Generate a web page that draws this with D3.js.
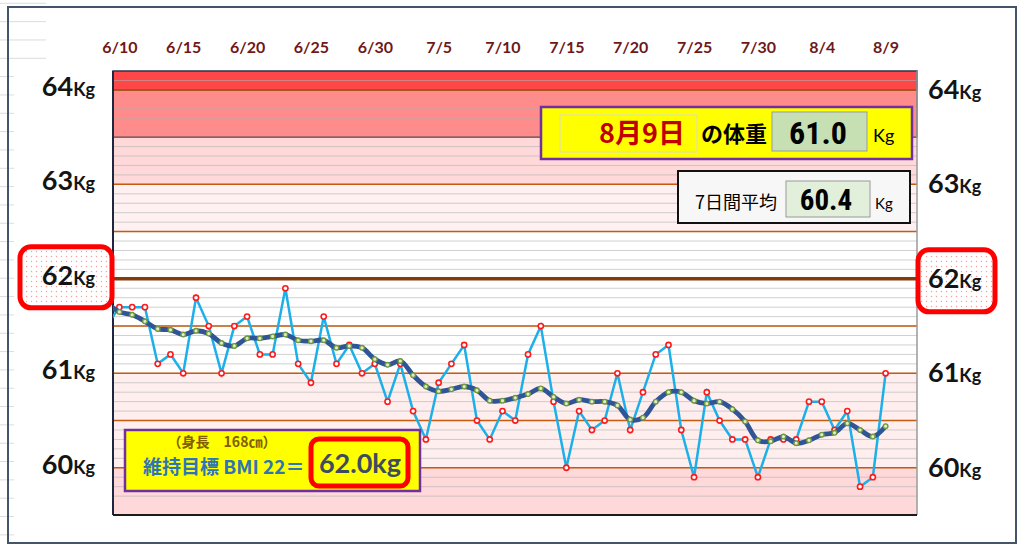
<!DOCTYPE html>
<html>
<head>
<meta charset="utf-8">
<script src="https://cdn.jsdelivr.net/npm/d3@7"></script>
<style>
  body { margin: 0; background: #fff; }
  svg { display: block; }
</style>
</head>
<body>
<div id="chart"></div>
<script>
// ----------------------------------------------
// Data (6/9 is drawn only as the clipped lead-in)
// ----------------------------------------------
var firstDay = "6/9";
var weights = [61.5,
    61.7, 61.7, 61.7, 61.1, 61.2, 61.0, 61.8, 61.5, 61.0, 61.5,
    61.6, 61.2, 61.2, 61.9, 61.1, 60.9, 61.6, 61.1, 61.3, 61.0,
    61.1, 60.7, 61.1, 60.6, 60.3, 60.9, 61.1, 61.3, 60.5, 60.3,
    60.6, 60.5, 61.2, 61.5, 60.7, 60.0, 60.6, 60.4, 60.5, 61.0,
    60.4, 60.8, 61.2, 61.3, 60.4, 59.9, 60.8, 60.5, 60.3, 60.3,
    59.9, 60.3, 60.3, 60.3, 60.7, 60.7, 60.4, 60.6, 59.8, 59.9,
    61.0];
var averages = [61.75,
    61.65, 61.62, 61.55, 61.47, 61.46, 61.41, 61.45, 61.42, 61.32, 61.29,
    61.37, 61.37, 61.39, 61.41, 61.35, 61.34, 61.35, 61.27, 61.29, 61.27,
    61.15, 61.09, 61.13, 60.98, 60.86, 60.81, 60.83, 60.86, 60.82, 60.71,
    60.71, 60.74, 60.78, 60.84, 60.75, 60.68, 60.72, 60.70, 60.70, 60.66,
    60.51, 60.53, 60.70, 60.80, 60.80, 60.71, 60.68, 60.70, 60.62, 60.49,
    60.29, 60.28, 60.33, 60.26, 60.29, 60.35, 60.37, 60.47, 60.40, 60.33,
    60.44];
var tickLabels = ["6/10", "6/15", "6/20", "6/25", "6/30", "7/5", "7/10",
    "7/15", "7/20", "7/25", "7/30", "8/4", "8/9"];
var yTickValues = [60, 61, 62, 63, 64];
var targetWeight = 62;
var todayLabel = "8月9日";
var todayWeight = "61.0";
var weekAverage = "60.4";
var heightLabel = "（身長　168㎝）";
var bmiLabel = "維持目標 BMI 22＝";
var bmiWeight = "62.0kg";

// background bands [from, to]
var bands = [
    [64, 64.2, "#ff4747"],
    [63.5, 64, "#ff8b8b"],
    [63, 63.5, "#ffd9d9"],
    [62.5, 63, "#fff1f1"],
    [61, 62.5, "#ffffff"],
    [60, 61, "#ffeeee"],
    [59.5, 60, "#ffd9d9"]
];
var orangeLines = [60, 60.5, 61, 61.5, 62.5, 63, 64];

// ----------------------------------------------
// Basic setup
// ----------------------------------------------
var svgWidth = 1024;
var svgHeight = 552;
var plot = { left: 113, right: 917, top: 71, bottom: 515 };

var svg = d3.select("#chart")
    .append("svg")
    .attr("width", svgWidth)
    .attr("height", svgHeight);

var parseDay = s => {
    var p = s.split("/");
    return new Date(2021, +p[0] - 1, +p[1]);
};
var startDate = parseDay(firstDay);
var dates = weights.map((w, i) => d3.timeDay.offset(startDate, i));

var xScale = d3.scaleTime()
    .domain([d3.timeHour.offset(parseDay(tickLabels[0]), -12),
        d3.timeHour.offset(parseDay(tickLabels[tickLabels.length - 1]), 59)])
    .range([plot.left, plot.right]);
var yScale = d3.scaleLinear()
    .domain([59.5, 64.2])
    .range([plot.bottom, plot.top]);

var defs = svg.append("defs");
defs.append("clipPath").attr("id", "plotClip")
    .append("rect")
    .attr("x", plot.left).attr("y", plot.top)
    .attr("width", plot.right - plot.left).attr("height", plot.bottom - plot.top);
var dots = defs.append("pattern").attr("id", "dots")
    .attr("width", 5).attr("height", 5).attr("patternUnits", "userSpaceOnUse");
dots.append("rect").attr("width", 5).attr("height", 5).attr("fill", "#fff");
dots.append("circle").attr("cx", 1.5).attr("cy", 1.5).attr("r", 0.7).attr("fill", "#ff9a9a");

// outer frame
svg.append("rect")
    .attr("x", 8).attr("y", 7).attr("width", 1008).attr("height", 536)
    .attr("fill", "#fff").attr("stroke", "#44546a").attr("stroke-width", 2);

// faint spreadsheet cell lines at the left
d3.range(3.3, 552, 18.33).forEach(yy => {
    svg.append("line")
        .attr("x1", 0).attr("x2", yy < 60 ? 46 : 14)
        .attr("y1", yy).attr("y2", yy)
        .attr("stroke", "#dcdcdc").attr("stroke-width", 1);
});
svg.append("line").attr("x1", 8).attr("x2", 8).attr("y1", 7).attr("y2", 543)
    .attr("stroke", "#44546a").attr("stroke-width", 2);

// ----------------------------------------------
// Plot background
// ----------------------------------------------
var bg = svg.append("g");
bg.selectAll(".band")
    .data(bands)
    .enter()
    .append("rect")
    .attr("x", plot.left)
    .attr("width", plot.right - plot.left)
    .attr("y", d => yScale(d[1]))
    .attr("height", d => yScale(d[0]) - yScale(d[1]))
    .attr("fill", d => d[2]);

// minor grid every 0.1 kg
bg.selectAll(".minor")
    .data(d3.range(597, 642).map(v => v / 10))
    .enter()
    .append("line")
    .attr("x1", plot.left).attr("x2", plot.right)
    .attr("y1", d => yScale(d)).attr("y2", d => yScale(d))
    .attr("stroke", "#b0b0b0").attr("stroke-opacity", 0.6).attr("stroke-width", 1);

// outlines of the top bands
bg.append("rect")
    .attr("x", plot.left).attr("y", yScale(64.2))
    .attr("width", plot.right - plot.left).attr("height", yScale(64) - yScale(64.2))
    .attr("fill", "none").attr("stroke", "#2b3550").attr("stroke-width", 1.5);
bg.append("rect")
    .attr("x", plot.left).attr("y", yScale(64))
    .attr("width", plot.right - plot.left).attr("height", yScale(63.5) - yScale(64))
    .attr("fill", "none").attr("stroke", "#5b4040").attr("stroke-width", 1.2);

bg.selectAll(".major")
    .data(orangeLines)
    .enter()
    .append("line")
    .attr("x1", plot.left).attr("x2", plot.right)
    .attr("y1", d => yScale(d)).attr("y2", d => yScale(d))
    .attr("stroke", "#c55a11").attr("stroke-width", 1.5);

bg.append("line")
    .attr("x1", plot.left).attr("x2", plot.right + 2)
    .attr("y1", yScale(targetWeight)).attr("y2", yScale(targetWeight))
    .attr("stroke", "#843c0c").attr("stroke-width", 3.5);

// plot borders
bg.append("line").attr("x1", plot.right).attr("x2", plot.right)
    .attr("y1", plot.top).attr("y2", plot.bottom)
    .attr("stroke", "#9a9a9a").attr("stroke-width", 1.5);
bg.append("line").attr("x1", plot.left).attr("x2", plot.left)
    .attr("y1", plot.top).attr("y2", plot.bottom)
    .attr("stroke", "#1f2740").attr("stroke-width", 2);
bg.append("line").attr("x1", plot.left).attr("x2", plot.right)
    .attr("y1", plot.bottom).attr("y2", plot.bottom)
    .attr("stroke", "#1a1a1a").attr("stroke-width", 2);

// ----------------------------------------------
// Lines and markers
// ----------------------------------------------
var chartGroup = svg.append("g").attr("clip-path", "url(#plotClip)");

var weightLine = d3.line()
    .x((d, i) => xScale(dates[i]))
    .y(d => yScale(d));
var avgLine = d3.line()
    .x((d, i) => xScale(dates[i]))
    .y(d => yScale(d))
    .curve(d3.curveCatmullRom);

chartGroup.append("path")
    .datum(weights)
    .attr("d", weightLine)
    .attr("fill", "none")
    .attr("stroke", "#1cb0ea")
    .attr("stroke-width", 2.5);
chartGroup.selectAll(".wDot")
    .data(weights)
    .enter()
    .append("circle")
    .attr("cx", (d, i) => xScale(dates[i]))
    .attr("cy", d => yScale(d))
    .attr("r", 2.6)
    .attr("fill", "#fff")
    .attr("stroke", "#ff1a1a")
    .attr("stroke-width", 1.6);

chartGroup.append("path")
    .datum(averages)
    .attr("d", avgLine)
    .attr("fill", "none")
    .attr("stroke", "#2f5597")
    .attr("stroke-width", 4.8)
    .attr("stroke-linecap", "round");
chartGroup.selectAll(".aDot")
    .data(averages)
    .enter()
    .append("circle")
    .attr("cx", (d, i) => xScale(dates[i]))
    .attr("cy", d => yScale(d))
    .attr("r", 2.3)
    .attr("fill", "#e2ecc8")
    .attr("stroke", "#6f9a3c")
    .attr("stroke-width", 1.4);

// ----------------------------------------------
// Axes
// ----------------------------------------------
var xAxis = d3.axisTop(xScale)
    .tickValues(tickLabels.map(parseDay))
    .tickFormat(d3.timeFormat("%-m/%-d"))
    .tickSize(0);
var xAxisG = svg.append("g")
    .attr("transform", "translate(0, 47)")
    .call(xAxis);
xAxisG.select(".domain").remove();
xAxisG.selectAll("text")
    .attr("y", 0).attr("dy", "0.36em")
    .attr("fill", "#6e1818")
    .style("font-family", "Lato, 'Open Sans', sans-serif")
    .style("font-weight", "bold")
    .style("font-size", "16px");

// target-weight boxes
svg.append("rect")
    .attr("x", 20).attr("y", yScale(targetWeight) - 32)
    .attr("width", 92).attr("height", 61).attr("rx", 11)
    .attr("fill", "url(#dots)").attr("stroke", "#ff0000").attr("stroke-width", 5);
svg.append("rect")
    .attr("x", 918).attr("y", yScale(targetWeight) - 29)
    .attr("width", 77).attr("height", 62).attr("rx", 11)
    .attr("fill", "url(#dots)").attr("stroke", "#ff0000").attr("stroke-width", 5);

function kgLabel(sel, anchor) {
    sel.attr("text-anchor", anchor)
        .attr("dy", "0.36em")
        .attr("fill", "#141414")
        .style("font-family", "Lato, 'Open Sans', sans-serif")
        .style("font-weight", "bold");
    sel.append("tspan").style("font-size", "27px").text(d => d);
    sel.append("tspan").style("font-size", "18px").text("Kg");
}
svg.selectAll(".yLeft")
    .data(yTickValues)
    .enter()
    .append("text")
    .attr("x", 95)
    .attr("y", d => yScale(d))
    .call(kgLabel, "end");
svg.selectAll(".yRight")
    .data(yTickValues)
    .enter()
    .append("text")
    .attr("x", 928)
    .attr("y", d => yScale(d) + 3)
    .call(kgLabel, "start");

// ----------------------------------------------
// Info boxes
// ----------------------------------------------
var jp = "'Noto Sans CJK JP', 'Noto Sans', sans-serif";
var narrow = "'Liberation Sans Narrow', 'Roboto Condensed', 'Liberation Sans', sans-serif";

var box1 = svg.append("g");
box1.append("rect").attr("x", 541).attr("y", 107).attr("width", 371).attr("height", 52)
    .attr("fill", "#ffff00").attr("stroke", "#7030a0").attr("stroke-width", 2.5);
box1.append("rect").attr("x", 560).attr("y", 115).attr("width", 137).attr("height", 37)
    .attr("fill", "#ffff00").attr("stroke", "#d8d8d8").attr("stroke-width", 1);
box1.append("text").attr("x", 642).attr("y", 134).attr("dy", "0.35em")
    .attr("text-anchor", "middle").attr("fill", "#c00000")
    .style("font-family", jp).style("font-weight", "bold").style("font-size", "27px")
    .text(todayLabel);
box1.append("text").attr("x", 734).attr("y", 134).attr("dy", "0.35em")
    .attr("text-anchor", "middle").attr("fill", "#000")
    .style("font-family", jp).style("font-weight", "bold").style("font-size", "22px")
    .text("の体重");
box1.append("rect").attr("x", 772).attr("y", 112).attr("width", 95).attr("height", 39)
    .attr("fill", "#c6e0b4").attr("stroke", "#9a9a9a").attr("stroke-width", 1);
box1.append("text").attr("x", 818).attr("y", 132).attr("dy", "0.36em")
    .attr("text-anchor", "middle").attr("fill", "#000")
    .style("font-family", narrow).style("font-weight", "bold").style("font-size", "32px")
    .text(todayWeight);
box1.append("text").attr("x", 873).attr("y", 136).attr("dy", "0.35em")
    .attr("fill", "#000")
    .style("font-family", "Lato, sans-serif").style("font-size", "18px")
    .text("Kg");

var box2 = svg.append("g");
box2.append("rect").attr("x", 678).attr("y", 171).attr("width", 232).attr("height", 52)
    .attr("fill", "#f7f7f7").attr("stroke", "#111").attr("stroke-width", 2);
box2.append("text").attr("x", 736).attr("y", 203).attr("dy", "0.35em")
    .attr("text-anchor", "middle").attr("fill", "#000")
    .style("font-family", jp).style("font-size", "18px")
    .text("7日間平均");
box2.append("rect").attr("x", 786).attr("y", 181).attr("width", 84).attr("height", 36)
    .attr("fill", "#e2efda").attr("stroke", "#9a9a9a").attr("stroke-width", 1);
box2.append("text").attr("x", 826).attr("y", 200).attr("dy", "0.36em")
    .attr("text-anchor", "middle").attr("fill", "#000")
    .style("font-family", narrow).style("font-weight", "bold").style("font-size", "29px")
    .text(weekAverage);
box2.append("text").attr("x", 875).attr("y", 204).attr("dy", "0.35em")
    .attr("fill", "#000")
    .style("font-family", "Lato, sans-serif").style("font-size", "15px")
    .text("Kg");

var box3 = svg.append("g");
box3.append("rect").attr("x", 125).attr("y", 430).attr("width", 295).attr("height", 61)
    .attr("fill", "#ffff00").attr("stroke", "#7030a0").attr("stroke-width", 2.5);
box3.append("text").attr("x", 222).attr("y", 442).attr("dy", "0.35em")
    .attr("text-anchor", "middle").attr("fill", "#7f6000")
    .style("font-family", jp).style("font-weight", "bold").style("font-size", "14px")
    .text(heightLabel);
box3.append("text").attr("x", 143).attr("y", 467).attr("dy", "0.35em")
    .attr("fill", "#2e75b6")
    .style("font-family", jp).style("font-weight", "bold").style("font-size", "19px")
    .text(bmiLabel);
box3.append("rect").attr("x", 311).attr("y", 439).attr("width", 97).attr("height", 47)
    .attr("rx", 8)
    .attr("fill", "#ffff00").attr("stroke", "#ff0000").attr("stroke-width", 5);
box3.append("text").attr("x", 360).attr("y", 463).attr("dy", "0.36em")
    .attr("text-anchor", "middle").attr("fill", "#3d4b60")
    .style("font-family", "Lato, 'Open Sans', sans-serif").style("font-size", "27px")
    .style("font-weight", "bold")
    .text(bmiWeight);
</script>
</body>
</html>
